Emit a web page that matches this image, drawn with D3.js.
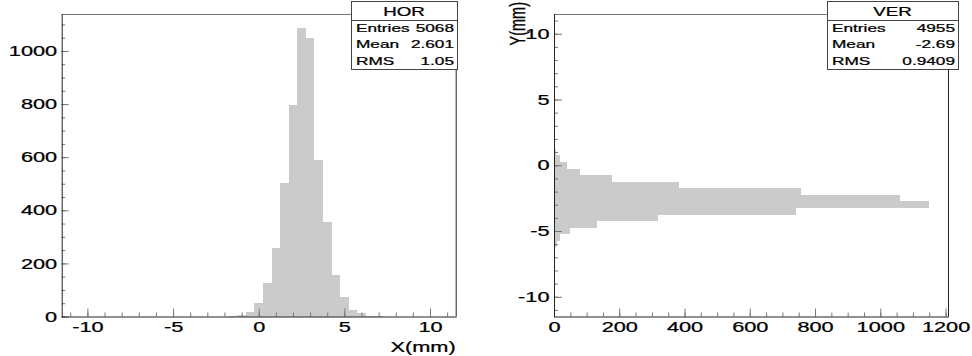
<!DOCTYPE html>
<html><head><meta charset="utf-8">
<script src="https://cdn.jsdelivr.net/npm/d3@7"></script>
<style>
html,body{margin:0;padding:0;background:#fff;}
svg{display:block;}
text{font-family:"Liberation Sans",Arial,Helvetica,sans-serif;fill:#000;stroke:#000;stroke-width:0.25px;}
</style></head>
<body>
<svg id="c" width="972" height="356"></svg>
<script>
// ---- data ----
const horCenters = [-1.5,-1,-0.5,0,0.5,1,1.5,2,2.5,3,3.5,4,4.5,5,5.5,6,6.5,7];
const horCounts  = [2,6,18,50,127,257,504,796,1085,1047,589,357,156,75,24,12,3,2];
const verCenters = [1,0.5,0,-0.5,-1,-1.5,-2,-2.5,-3,-3.5,-4,-4.5,-5,-5.5,-6,-6.5];
const verCounts  = [6,18,39,81,177,383,757,1061,1150,743,319,133,49,18,9,4];
const binWidth = 0.5;
const horStats = [["Entries","5068"],["Mean","2.601"],["RMS","1.05"]];
const verStats = [["Entries","4955"],["Mean","-2.69"],["RMS","0.9409"]];
const horTicksX = [-10,-5,0,5,10];
const horTicksY = [0,200,400,600,800,1000];
const verTicksX = [0,200,400,600,800,1000,1200];
const verTicksY = [-10,-5,0,5,10];

const svg = d3.select("#c");
const SX = 1.5; // horizontal stretch of the original text
const barColor = "#cbcbcb";
const fmt = d => String(d);

function stext(g, x, y, str, anchor, size, rot){
  return g.append("text")
    .attr("transform", `translate(${x},${y}) scale(${SX},1)` + (rot ? ` rotate(${rot})` : ""))
    .attr("text-anchor", anchor).attr("dominant-baseline","central")
    .style("font-size", size + "px").text(str);
}
function frame(g, x0, x1, y0, y1){
  g.append("line").attr("x1",x0).attr("x2",x1).attr("y1",y0+0.5).attr("y2",y0+0.5).attr("stroke","#777");
  g.append("line").attr("x1",x1+0.5).attr("x2",x1+0.5).attr("y1",y0).attr("y2",y1).attr("stroke","#222");
  g.append("line").attr("x1",x0+0.5).attr("x2",x0+0.5).attr("y1",y0).attr("y2",y1+0.5).attr("stroke","#222");
  g.append("line").attr("x1",x0).attr("x2",x1+1).attr("y1",y1+0.5).attr("y2",y1+0.5).attr("stroke","#222");
}
function statBox(g, x, y, w, h, title, rows){
  const hh = 19;
  g.append("rect").attr("x",x+0.5).attr("y",y+0.5).attr("width",w).attr("height",h)
    .attr("fill","#fff").attr("stroke","#444");
  g.append("line").attr("x1",x).attr("x2",x+w).attr("y1",y+hh+0.5).attr("y2",y+hh+0.5).attr("stroke","#444");
  stext(g, x + w/2, y + hh/2 + 1, title, "middle", 12.5);
  const rh = (h - hh) / rows.length;
  rows.forEach((r,i)=>{
    const cy = y + hh + rh*(i+0.5);
    stext(g, x+5, cy, r[0], "start", 11.5);
    stext(g, x+w-3, cy, r[1], "end", 11.5);
  });
}
function styleAxis(sel){
  sel.select(".domain").remove();
  sel.selectAll(".tick line").attr("stroke","#777");
  sel.selectAll("text").style("font-size","14.5px").attr("fill","#000");
}

// ---------------- LEFT PANEL (HOR) ----------------
{
  const x0=61.7, x1=455.7, y0=14, y1=316.5;
  const g = svg.append("g");
  const x = d3.scaleLinear().domain([-11.5,11.5]).range([x0,x1]);
  const ymax = d3.max(horCounts)*1.05;
  const y = d3.scaleLinear().domain([0,ymax]).range([y1,y0]);
  g.selectAll("rect.bar").data(horCenters).enter().append("rect").attr("class","bar")
    .attr("x", d=>x(d-binWidth/2)).attr("width", d=>x(d+binWidth/2)-x(d-binWidth/2))
    .attr("y", (d,i)=>y(horCounts[i])).attr("height",(d,i)=>y(0)-y(horCounts[i]))
    .attr("fill",barColor).attr("shape-rendering","crispEdges");
  const gxm = g.append("g").attr("transform",`translate(0,${y1})`)
    .call(d3.axisBottom(x).tickValues(d3.range(-11,12,1)).tickSizeInner(-4).tickFormat(""));
  styleAxis(gxm);
  const gym = g.append("g").attr("transform",`translate(${x0},0)`)
    .call(d3.axisLeft(y).tickValues(d3.range(0,ymax,50)).tickSizeInner(-3.5).tickFormat(""));
  styleAxis(gym);
  const gx = g.append("g").attr("transform",`translate(0,${y1})`)
    .call(d3.axisBottom(x).tickValues(horTicksX).tickSizeInner(-8).tickPadding(13).tickFormat(fmt));
  styleAxis(gx);
  gx.selectAll("text").attr("transform",`scale(${SX},1)`).attr("dy","0.2em");
  const gy = g.append("g").attr("transform",`translate(${x0},0)`)
    .call(d3.axisLeft(y).tickValues(horTicksY).tickSizeInner(-7).tickPadding(3).tickFormat(fmt));
  styleAxis(gy);
  gy.selectAll("text").attr("transform",`scale(${SX},1)`);
  frame(g, x0, x1, y0, y1);
  stext(g, x1, 347, "X(mm)", "end", 14.5);
  statBox(g, 351, 1, 106, 68, "HOR", horStats);
}

// ---------------- RIGHT PANEL (VER) ----------------
{
  const x0=554, x1=948, y0=14, y1=316.5;
  const g = svg.append("g");
  const xmax = d3.max(verCounts)*1.05;
  const x = d3.scaleLinear().domain([0,xmax]).range([x0,x1]);
  const y = d3.scaleLinear().domain([-11.5,11.5]).range([y1,y0]);
  g.selectAll("rect.bar").data(verCenters).enter().append("rect").attr("class","bar")
    .attr("y", d=>y(d+binWidth/2)).attr("height", d=>y(d-binWidth/2)-y(d+binWidth/2))
    .attr("x", x(0)).attr("width",(d,i)=>x(verCounts[i])-x(0))
    .attr("fill",barColor).attr("shape-rendering","crispEdges");
  const gxm = g.append("g").attr("transform",`translate(0,${y1})`)
    .call(d3.axisBottom(x).tickValues(d3.range(0,xmax,50)).tickSizeInner(-4).tickFormat(""));
  styleAxis(gxm);
  const gym = g.append("g").attr("transform",`translate(${x0},0)`)
    .call(d3.axisLeft(y).tickValues(d3.range(-11,12,1)).tickSizeInner(-4).tickFormat(""));
  styleAxis(gym);
  const gx = g.append("g").attr("transform",`translate(0,${y1})`)
    .call(d3.axisBottom(x).tickValues(verTicksX).tickSizeInner(-8).tickPadding(13).tickFormat(fmt));
  styleAxis(gx);
  gx.selectAll("text").attr("transform",`scale(${SX},1)`).attr("dy","0.2em");
  const gy = g.append("g").attr("transform",`translate(${x0},0)`)
    .call(d3.axisLeft(y).tickValues(verTicksY).tickSizeInner(-8).tickPadding(3).tickFormat(fmt));
  styleAxis(gy);
  gy.selectAll("text").attr("transform",`scale(${SX},1)`);
  frame(g, x0, x1, y0, y1);
  stext(g, 517, y0-12, "Y(mm)", "end", 14.5, -90);
  statBox(g, 827, 1, 131, 68, "VER", verStats);
}
</script>
</body></html>
